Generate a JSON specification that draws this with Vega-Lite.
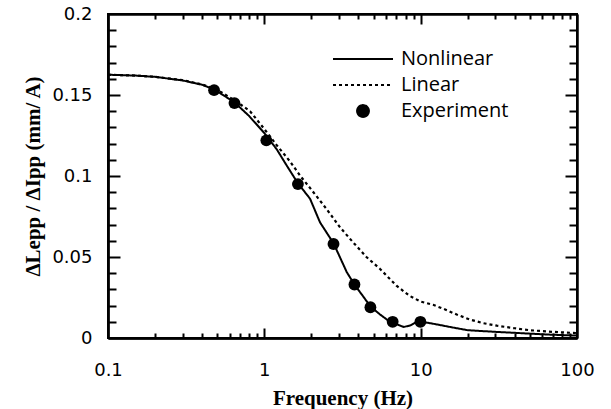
{
  "$schema": "https://vega.github.io/schema/vega-lite/v6.json",
  "width": 469,
  "height": 324,
  "autosize": "none",
  "padding": {"left": 108, "top": 14, "right": 34, "bottom": 71},
  "background": "white",
  "config": {
    "view": {"stroke": "black", "strokeWidth": 2},
    "axis": {"labelColor": "black", "titleColor": "black", "grid": false, "domainColor": "black", "domainWidth": 2, "tickColor": "black", "tickWidth": 2},
    "legend": {
      "orient": "none", "legendX": 245, "legendY": 35, "padding": 0,
      "labelFont": "Open Sans", "labelFontSize": 20, "labelColor": "black", "labelOffset": 28,
      "symbolSize": 140, "symbolStrokeWidth": 2, "symbolStrokeColor": "black", "symbolFillColor": "black",
      "rowPadding": 6, "title": null
    }
  },
  "data": {
    "values": [
      {"f": 0.1, "v": 0.1625, "series": "Nonlinear"},
      {"f": 0.15, "v": 0.162, "series": "Nonlinear"},
      {"f": 0.2, "v": 0.1612, "series": "Nonlinear"},
      {"f": 0.3, "v": 0.159, "series": "Nonlinear"},
      {"f": 0.4, "v": 0.1563, "series": "Nonlinear"},
      {"f": 0.477, "v": 0.1535, "series": "Nonlinear"},
      {"f": 0.644, "v": 0.1455, "series": "Nonlinear"},
      {"f": 0.8, "v": 0.137, "series": "Nonlinear"},
      {"f": 1.0, "v": 0.1265, "series": "Nonlinear"},
      {"f": 1.2, "v": 0.1165, "series": "Nonlinear"},
      {"f": 1.4, "v": 0.106, "series": "Nonlinear"},
      {"f": 1.64, "v": 0.0955, "series": "Nonlinear"},
      {"f": 1.96, "v": 0.086, "series": "Nonlinear"},
      {"f": 2.27, "v": 0.0714, "series": "Nonlinear"},
      {"f": 2.77, "v": 0.0585, "series": "Nonlinear"},
      {"f": 3.37, "v": 0.0406, "series": "Nonlinear"},
      {"f": 3.77, "v": 0.033, "series": "Nonlinear"},
      {"f": 4.3, "v": 0.0255, "series": "Nonlinear"},
      {"f": 4.77, "v": 0.0195, "series": "Nonlinear"},
      {"f": 5.5, "v": 0.0145, "series": "Nonlinear"},
      {"f": 6.4, "v": 0.0098, "series": "Nonlinear"},
      {"f": 7.0, "v": 0.0085, "series": "Nonlinear"},
      {"f": 7.8, "v": 0.0068, "series": "Nonlinear"},
      {"f": 8.6, "v": 0.0078, "series": "Nonlinear"},
      {"f": 9.5, "v": 0.0102, "series": "Nonlinear"},
      {"f": 10.5, "v": 0.0098, "series": "Nonlinear"},
      {"f": 13, "v": 0.0082, "series": "Nonlinear"},
      {"f": 16, "v": 0.0065, "series": "Nonlinear"},
      {"f": 20, "v": 0.0048, "series": "Nonlinear"},
      {"f": 30, "v": 0.0038, "series": "Nonlinear"},
      {"f": 50, "v": 0.0027, "series": "Nonlinear"},
      {"f": 70, "v": 0.002, "series": "Nonlinear"},
      {"f": 100, "v": 0.0015, "series": "Nonlinear"},
      {"f": 0.1, "v": 0.1625, "series": "Linear"},
      {"f": 0.15, "v": 0.162, "series": "Linear"},
      {"f": 0.2, "v": 0.1612, "series": "Linear"},
      {"f": 0.3, "v": 0.1592, "series": "Linear"},
      {"f": 0.4, "v": 0.1565, "series": "Linear"},
      {"f": 0.5, "v": 0.1532, "series": "Linear"},
      {"f": 0.65, "v": 0.1465, "series": "Linear"},
      {"f": 0.81, "v": 0.14, "series": "Linear"},
      {"f": 1.0, "v": 0.129, "series": "Linear"},
      {"f": 1.2, "v": 0.119, "series": "Linear"},
      {"f": 1.46, "v": 0.109, "series": "Linear"},
      {"f": 1.7, "v": 0.1, "series": "Linear"},
      {"f": 2.06, "v": 0.09, "series": "Linear"},
      {"f": 2.5, "v": 0.0796, "series": "Linear"},
      {"f": 3.05, "v": 0.0683, "series": "Linear"},
      {"f": 3.7, "v": 0.059, "series": "Linear"},
      {"f": 4.5, "v": 0.05, "series": "Linear"},
      {"f": 5.5, "v": 0.0426, "series": "Linear"},
      {"f": 7.0, "v": 0.0323, "series": "Linear"},
      {"f": 8.5, "v": 0.026, "series": "Linear"},
      {"f": 10, "v": 0.0225, "series": "Linear"},
      {"f": 12, "v": 0.0205, "series": "Linear"},
      {"f": 14, "v": 0.018, "series": "Linear"},
      {"f": 17, "v": 0.0145, "series": "Linear"},
      {"f": 20.5, "v": 0.0115, "series": "Linear"},
      {"f": 25, "v": 0.0092, "series": "Linear"},
      {"f": 30.7, "v": 0.0076, "series": "Linear"},
      {"f": 40, "v": 0.006, "series": "Linear"},
      {"f": 50, "v": 0.0048, "series": "Linear"},
      {"f": 70, "v": 0.0038, "series": "Linear"},
      {"f": 100, "v": 0.003, "series": "Linear"},
      {"f": 0.477, "v": 0.153, "series": "Experiment"},
      {"f": 0.644, "v": 0.145, "series": "Experiment"},
      {"f": 1.03, "v": 0.122, "series": "Experiment"},
      {"f": 1.64, "v": 0.095, "series": "Experiment"},
      {"f": 2.77, "v": 0.058, "series": "Experiment"},
      {"f": 3.77, "v": 0.033, "series": "Experiment"},
      {"f": 4.77, "v": 0.019, "series": "Experiment"},
      {"f": 6.62, "v": 0.01, "series": "Experiment"},
      {"f": 9.96, "v": 0.01, "series": "Experiment"}
    ]
  },
  "layer": [
    {
      "transform": [{"filter": "datum.series == 'Nonlinear'"}],
      "mark": {"type": "line", "color": "black", "strokeWidth": 2},
      "encoding": {
        "x": {"field": "f", "type": "quantitative", "scale": {"type": "log", "domain": [0.1, 100], "nice": false},
          "axis": {"orient": "bottom", "values": [0.1, 1, 10, 100], "format": "~g", "ticks": false, "labelPadding": 23, "labelFlush": false,
            "labelFont": "DejaVu Sans", "labelFontSize": 18, "labelFontWeight": "normal",
            "title": "Frequency (Hz)", "titleFont": "Liberation Serif", "titleFontSize": 21, "titleFontWeight": "bold", "titlePadding": 8}},
        "y": {"field": "v", "type": "quantitative", "scale": {"domain": [0, 0.2], "nice": false, "zero": false},
          "axis": {"orient": "left", "values": [0, 0.05, 0.1, 0.15, 0.2], "format": "~g", "ticks": false, "labelPadding": 16, "labelFlush": false,
            "labelFont": "DejaVu Sans", "labelFontSize": 18,
            "title": "ΔLepp / ΔIpp (mm/ A)", "titleFont": "Liberation Serif", "titleFontSize": 21, "titleFontWeight": "bold", "titlePadding": 8}},
        "strokeDash": {"field": "series", "type": "nominal",
          "scale": {"domain": ["Nonlinear", "Linear", "Experiment"], "range": [[1, 0], [3, 3], [1, 0]]},
          "legend": {"orient": "none", "legendX": 245, "legendY": 35,
            "encode": {"symbols": {"update": {"stroke": {"value": "black"}, "strokeWidth": {"value": 2}, "fill": {"value": "black"}}}}}}
      }
    },
    {
      "transform": [{"filter": "datum.series == 'Linear'"}],
      "mark": {"type": "line", "color": "black", "strokeWidth": 2.2},
      "encoding": {
        "x": {"field": "f", "type": "quantitative",
          "axis": {"orient": "bottom", "labels": false, "title": null, "tickSize": -5, "tickWidth": 2, "tickColor": "black",
            "values": [0.2,0.3,0.4,0.5,0.6,0.7,0.8,0.9,2,3,4,5,6,7,8,9,20,30,40,50,60,70,80,90]}},
        "y": {"field": "v", "type": "quantitative",
          "axis": {"orient": "left", "labels": false, "title": null, "tickSize": -8, "tickWidth": 2, "tickColor": "black",
            "values": [0.01,0.02,0.03,0.04,0.06,0.07,0.08,0.09,0.11,0.12,0.13,0.14,0.16,0.17,0.18,0.19]}},
        "strokeDash": {"field": "series", "type": "nominal",
          "legend": {"orient": "none", "legendX": 245, "legendY": 35,
            "encode": {"symbols": {"update": {"stroke": {"value": "black"}, "strokeWidth": {"value": 2}, "fill": {"value": "black"}}}}}}
      }
    },
    {
      "transform": [{"filter": "datum.series == 'Experiment'"}],
      "mark": {"type": "point", "filled": true, "color": "black", "opacity": 1, "size": 140},
      "encoding": {
        "x": {"field": "f", "type": "quantitative",
          "axis": {"orient": "top", "labels": false, "title": null, "tickSize": -5, "tickWidth": 2, "tickColor": "black",
            "values": [0.2,0.3,0.4,0.5,0.6,0.7,0.8,0.9,2,3,4,5,6,7,8,9,20,30,40,50,60,70,80,90]}},
        "y": {"field": "v", "type": "quantitative",
          "axis": {"orient": "right", "labels": false, "title": null, "tickSize": -8, "tickWidth": 2, "tickColor": "black",
            "values": [0.01,0.02,0.03,0.04,0.06,0.07,0.08,0.09,0.11,0.12,0.13,0.14,0.16,0.17,0.18,0.19]}},
        "shape": {"field": "series", "type": "nominal",
          "scale": {"domain": ["Nonlinear", "Linear", "Experiment"], "range": ["M-5.07,0H5.07", "M-5.07,0H5.07", "circle"]},
          "legend": {"orient": "none", "legendX": 245, "legendY": 35,
            "encode": {"symbols": {"update": {"stroke": {"value": "black"}, "strokeWidth": {"value": 2}, "fill": {"value": "black"}}}}}}
      }
    },
    {
      "transform": [{"filter": "datum.series == 'Experiment'"}],
      "mark": {"type": "point", "filled": true, "color": "black", "opacity": 0, "size": 10},
      "encoding": {
        "x": {"field": "f", "type": "quantitative",
          "axis": {"orient": "top", "labels": false, "title": null, "tickSize": -10, "tickWidth": 2, "tickColor": "black", "values": [1, 10]}},
        "y": {"field": "v", "type": "quantitative",
          "axis": {"orient": "right", "labels": false, "title": null, "tickSize": -12, "tickWidth": 2, "tickColor": "black", "values": [0.05, 0.1, 0.15]}}
      }
    },
    {
      "transform": [{"filter": "datum.series == 'Experiment'"}],
      "mark": {"type": "point", "filled": true, "color": "black", "opacity": 0, "size": 10},
      "encoding": {
        "x": {"field": "f", "type": "quantitative",
          "axis": {"orient": "bottom", "labels": false, "title": null, "tickSize": -10, "tickWidth": 2, "tickColor": "black", "values": [1, 10]}},
        "y": {"field": "v", "type": "quantitative",
          "axis": {"orient": "left", "labels": false, "title": null, "tickSize": -12, "tickWidth": 2, "tickColor": "black", "values": [0.05, 0.1, 0.15]}}
      }
    }
  ],
  "resolve": {"axis": {"x": "independent", "y": "independent"}}
}
